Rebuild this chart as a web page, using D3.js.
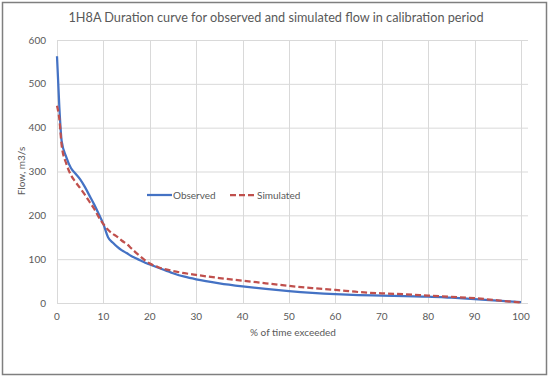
<!DOCTYPE html>
<html>
<head>
<meta charset="utf-8">
<script src="https://cdn.jsdelivr.net/npm/d3@7"></script>
<style>
  html, body { margin: 0; padding: 0; background: #fff; }
  svg { display: block; font-family: Lato, "Open Sans", sans-serif; }
</style>
</head>
<body>
<svg id="chart" width="550" height="378"></svg>
<script>
var pct = [0, 0.5, 1, 2, 3, 4, 5, 6, 7, 8, 9, 10, 11, 12, 13, 14, 15, 16, 17, 18, 19, 20, 22, 25, 27.5, 30, 35, 40, 45, 50, 55, 60, 65, 70, 75, 80, 85, 90, 95, 100];
var observed = [563, 448, 370, 333, 308, 295, 282, 265, 245, 225, 203, 180, 150, 138, 128, 120, 114, 107, 102, 97, 92, 88, 80, 68, 60, 54, 45, 38, 32, 27, 23, 20, 18, 17, 15.5, 14.5, 12, 9, 5.5, 2];
var simulated = [450, 420, 360, 318, 292, 276, 262, 247, 231, 215, 196, 180, 167, 158, 151, 142, 135, 125, 115, 106, 97, 90, 81, 73, 68, 64, 57, 51, 45, 39, 34, 30, 25, 22, 20, 17, 14, 11, 6, 1];
var xTicks = [0, 10, 20, 30, 40, 50, 60, 70, 80, 90, 100];
var yTicks = [0, 100, 200, 300, 400, 500, 600];

(function() {
  var svg = d3.select('#chart');
  var textColor = '#595959';

  // outer frame
  svg.append('rect')
    .attr('x', 2.5).attr('y', 2.5)
    .attr('width', 544).attr('height', 372)
    .attr('fill', '#fff')
    .attr('stroke', '#7f7f7f')
    .attr('stroke-width', 1.5);

  var x = d3.scaleLinear().domain([0, 100]).range([57, 521]);
  var y = d3.scaleLinear().domain([0, 600]).range([303, 40]);

  // gridlines
  svg.append('g').selectAll('line.h')
    .data(yTicks)
    .enter().append('line')
      .attr('x1', x(0)).attr('x2', 528)
      .attr('y1', function(d) { return y(d) + 0.5; })
      .attr('y2', function(d) { return y(d) + 0.5; })
      .attr('stroke', '#d9d9d9');

  svg.append('g').selectAll('line.v')
    .data(xTicks)
    .enter().append('line')
      .attr('x1', function(d) { return Math.round(x(d)) + 0.5; })
      .attr('x2', function(d) { return Math.round(x(d)) + 0.5; })
      .attr('y1', y(600)).attr('y2', y(0))
      .attr('stroke', '#d9d9d9');

  // tick labels
  svg.append('g').selectAll('text')
    .data(yTicks)
    .enter().append('text')
      .attr('x', 46)
      .attr('y', function(d) { return y(d) + 3.5; })
      .attr('text-anchor', 'end')
      .attr('font-size', 10)
      .attr('fill', textColor)
      .text(function(d) { return d; });

  svg.append('g').selectAll('text')
    .data(xTicks)
    .enter().append('text')
      .attr('x', function(d) { return x(d); })
      .attr('y', 320)
      .attr('text-anchor', 'middle')
      .attr('font-size', 10)
      .attr('fill', textColor)
      .text(function(d) { return d; });

  // titles
  svg.append('text')
    .attr('x', 276).attr('y', 22)
    .attr('text-anchor', 'middle')
    .attr('font-size', 12.7)
    .attr('fill', textColor)
    .text('1H8A Duration curve for observed and simulated flow in calibration period');

  svg.append('text')
    .attr('x', 293).attr('y', 336)
    .attr('text-anchor', 'middle')
    .attr('font-size', 10)
    .attr('fill', textColor)
    .text('% of time exceeded');

  svg.append('text')
    .attr('transform', 'translate(25,171) rotate(-90)')
    .attr('text-anchor', 'middle')
    .attr('font-size', 10)
    .attr('fill', textColor)
    .text('Flow, m3/s');

  // lines
  var line = function(vals) {
    return d3.line()
      .curve(d3.curveMonotoneX)
      .x(function(d, i) { return x(pct[i]); })
      .y(function(d) { return y(d); })(vals);
  };

  svg.append('path')
    .attr('d', line(observed))
    .attr('fill', 'none')
    .attr('stroke', '#4472c4')
    .attr('stroke-width', 2.25)
    .attr('stroke-linejoin', 'round');

  svg.append('path')
    .attr('d', line(simulated))
    .attr('fill', 'none')
    .attr('stroke', '#c0504d')
    .attr('stroke-width', 2.25)
    .attr('stroke-dasharray', '6,3');

  // legend
  var legend = svg.append('g').attr('transform', 'translate(147,195)');
  legend.append('line')
    .attr('x1', 0).attr('x2', 25)
    .attr('stroke', '#4472c4').attr('stroke-width', 2.25);
  legend.append('text')
    .attr('x', 26).attr('y', 3.5)
    .attr('font-size', 10).attr('fill', textColor)
    .text('Observed');
  legend.append('line')
    .attr('x1', 83).attr('x2', 107)
    .attr('stroke', '#c0504d').attr('stroke-width', 2.25)
    .attr('stroke-dasharray', '6,3');
  legend.append('text')
    .attr('x', 110).attr('y', 3.5)
    .attr('font-size', 10).attr('fill', textColor)
    .text('Simulated');
})();
</script>
</body>
</html>
